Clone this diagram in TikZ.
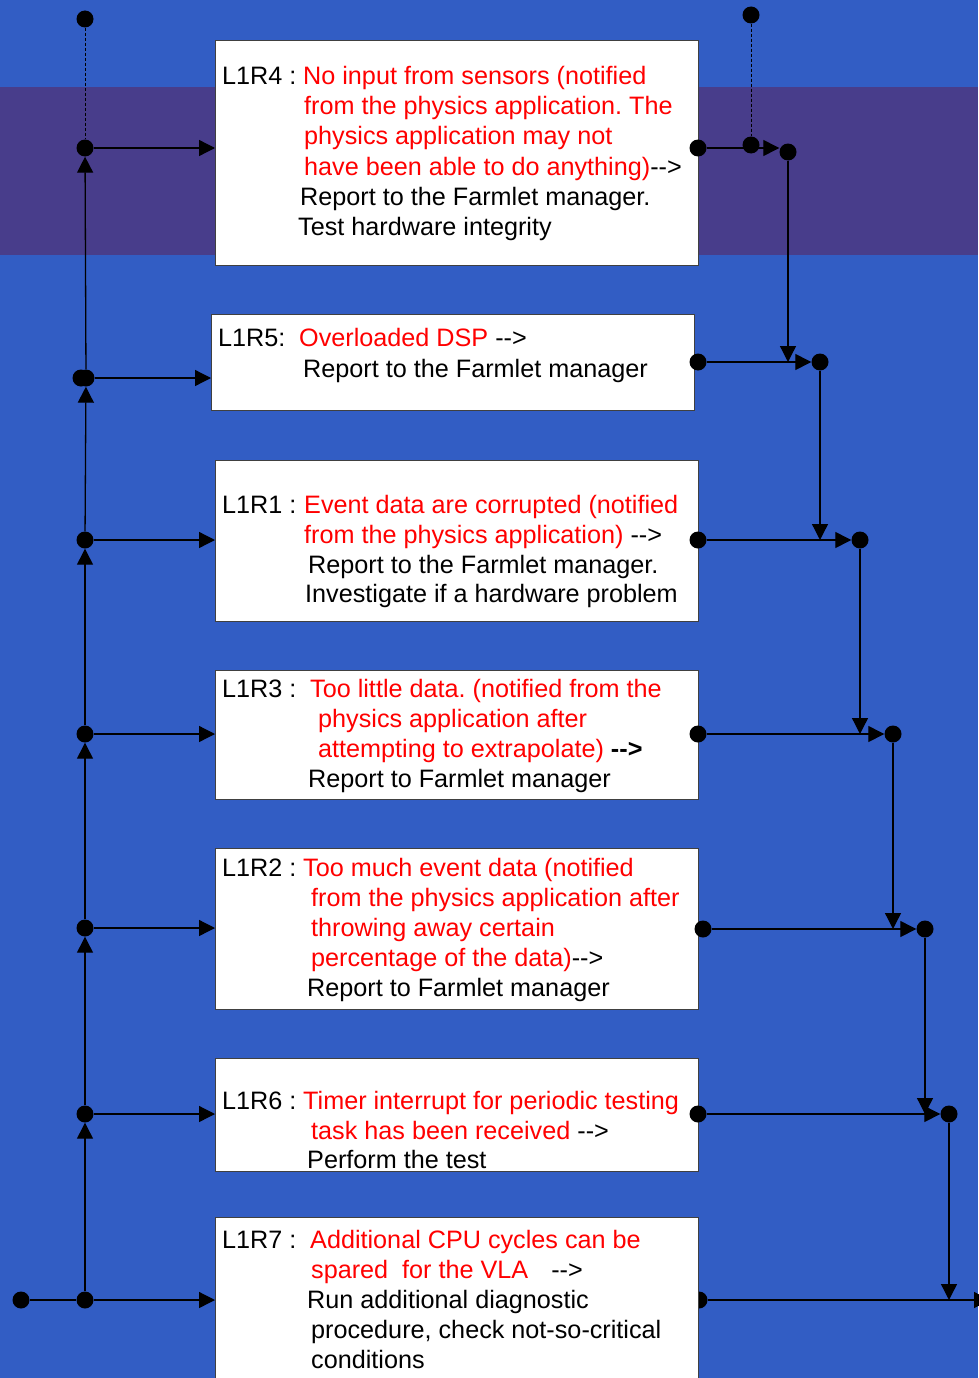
\documentclass[tikz,border=0pt]{standalone}
\usepackage{fontspec}
\setmainfont{Liberation Sans}
\usetikzlibrary{arrows.meta}
\definecolor{bgblue}{HTML}{325DC4}
\definecolor{bandpurple}{HTML}{483D8B}
\definecolor{rred}{HTML}{FF0000}
\newcommand{\darr}{-{}-{}>}
\begin{document}
\frenchspacing
\begin{tikzpicture}[x=1pt,y=-1pt,
  box/.style={draw=black!75, fill=white, line width=0.9pt, inner sep=0pt, anchor=north west},
  dot/.style={circle, fill=black, inner sep=0pt, minimum size=17pt},
  txt/.style={anchor=base west, inner sep=0pt, font=\fontsize{25.2}{30}\selectfont},
  rtxt/.style={txt, text=rred},
  conn/.style={line width=1.3pt, draw=black},
  arr/.style={conn, -{Triangle[length=16pt,width=16pt]}},
  dsh/.style={line width=1pt, dash pattern=on 3pt off 2pt}]
% background
\fill[bgblue] (0,0) rectangle (978,1378);
\fill[bandpurple] (0,87) rectangle (978,255);
\useasboundingbox (0,0) rectangle (978,1378);

% left dots
\node[dot] (Ltop) at (85,19) {};
\node[dot] (L148) at (85,148) {};
\node[dot] (L378a) at (81,378) {};
\node[dot] (L378b) at (86,378) {};
\node[dot] (L540) at (85,540) {};
\node[dot] (L734) at (85,734) {};
\node[dot] (L928) at (85,928) {};
\node[dot] (L1114) at (85,1114) {};
\node[dot] (L1300) at (85,1300) {};
\node[dot] (Lstart) at (21,1300) {};

% right dots
\node[dot] (Jtop) at (751,15) {};
\node[dot] (J4a) at (751,145) {};
\node[dot] (J4) at (788,152) {};
\node[dot] (J5) at (820,362) {};
\node[dot] (J1) at (860,540) {};
\node[dot] (J3) at (893,734) {};
\node[dot] (J2) at (925,929) {};
\node[dot] (J6) at (949,1114) {};
\coordinate (E) at (990,1300);
\node[dot] (R7) at (699,1300) {};

% boxes
\node[box, minimum width=483pt, minimum height=225pt] (b4) at (215,40) {};
\node[box, minimum width=483pt, minimum height=96pt] (b5) at (211,314) {};
\node[box, minimum width=483pt, minimum height=161pt] (b1) at (215,460) {};
\node[box, minimum width=483pt, minimum height=129pt] (b3) at (215,670) {};
\node[box, minimum width=483pt, minimum height=161pt] (b2) at (215,848) {};
\node[box, minimum width=483pt, minimum height=113pt] (b6) at (215,1058) {};
\node[box, minimum width=483pt, minimum height=200pt] (b7) at (215,1217) {};

% right dots on box edges
\node[dot] (R4) at (698,148) {};
\node[dot] (R5) at (698,362) {};
\node[dot] (R1) at (698,540) {};
\node[dot] (R3) at (698,734) {};
\node[dot] (R2) at (703,929) {};
\node[dot] (R6) at (698,1114) {};

% left connectors
\draw[dsh] (Ltop) -- (L148);
\draw[conn] (Lstart) -- (L1300);
\draw[arr] (L1300) -- (L1114);
\draw[arr] (L1114) -- (L928);
\draw[arr] (L928) -- (L734);
\draw[arr] (L734) -- (L540);
\draw[arr] (L540) -- (L378b);
\draw[arr] (L378b) -- (L148);
\draw[arr] (L148) -- (L148 -| b4.west);
\draw[arr] (L378b) -- (L378b -| b5.west);
\draw[arr] (L540) -- (L540 -| b1.west);
\draw[arr] (L734) -- (L734 -| b3.west);
\draw[arr] (L928) -- (L928 -| b2.west);
\draw[arr] (L1114) -- (L1114 -| b6.west);
\draw[arr] (L1300) -- (L1300 -| b7.west);

% right connectors
\draw[dsh] (Jtop) -- (J4a);
\draw[arr] (R4) -- (R4 -| J4.west);
\draw[arr] (J4) -- (J4 |- R5);
\draw[arr] (R5) -- (J5);
\draw[arr] (J5) -- (J5 |- R1);
\draw[arr] (R1) -- (J1);
\draw[arr] (J1) -- (J1 |- R3);
\draw[arr] (R3) -- (J3);
\draw[arr] (J3) -- (J3 |- R2);
\draw[arr] (R2) -- (J2);
\draw[arr] (J2) -- (J2 |- R6);
\draw[arr] (R6) -- (J6);
\draw[arr] (J6) -- (J6 |- R7);
\draw[arr] (R7) -- (E);

% texts L1R4
\node[txt] (t4l) at (222,85) {L1R4 :};
\node[rtxt] (t4a) at (303,85) {No input from sensors (notified};
\node[rtxt] (t4b) at (304,115) {from the physics application. The};
\node[rtxt] (t4c) at (304,145) {physics application may not};
\node[rtxt] (t4d) at (304,175) {have been able to do anything)\textcolor{black}{\darr}};
\node[txt] (t4e) at (300,205) {Report to the Farmlet manager.};
\node[txt] (t4f) at (298,235) {Test hardware integrity};
% L1R5
\node[txt] (t5l) at (218,346) {L1R5:};
\node[rtxt] (t5a) at (299,346) {Overloaded DSP \textcolor{black}{\darr}};
\node[txt] (t5b) at (303,377) {Report to the Farmlet manager};
% L1R1
\node[txt] (t1l) at (222,513) {L1R1 :};
\node[rtxt] (t1a) at (304,513) {Event data are corrupted (notified};
\node[rtxt] (t1b) at (304,543) {from the physics application) \textcolor{black}{\darr}};
\node[txt] (t1c) at (308,573) {Report to the Farmlet manager.};
\node[txt] (t1d) at (305,602) {Investigate if a hardware problem};
% L1R3
\node[txt] (t3l) at (222,697) {L1R3 :};
\node[rtxt] (t3a) at (310,697) {Too little data. (notified from the};
\node[rtxt] (t3b) at (318,727) {physics application after};
\node[rtxt] (t3c) at (318,757) {attempting to extrapolate) \textcolor{black}{\bfseries\darr}};
\node[txt] (t3d) at (308,787) {Report to Farmlet manager};
% L1R2
\node[txt] (t2l) at (222,876) {L1R2 :};
\node[rtxt] (t2a) at (303,876) {Too much event data (notified};
\node[rtxt] (t2b) at (311,906) {from the physics application after};
\node[rtxt] (t2c) at (311,936) {throwing away certain};
\node[rtxt] (t2d) at (311,966) {percentage of the data)\textcolor{black}{\darr}};
\node[txt] (t2e) at (307,996) {Report to Farmlet manager};
% L1R6
\node[txt] (t6l) at (222,1109) {L1R6 :};
\node[rtxt] (t6a) at (303,1109) {Timer interrupt for periodic testing};
\node[rtxt] (t6b) at (311,1139) {task has been received \textcolor{black}{\darr}};
\node[txt] (t6c) at (307,1168) {Perform the test};
% L1R7
\node[txt] (t7l) at (222,1248) {L1R7 :};
\node[rtxt] (t7a) at (310,1248) {Additional CPU cycles can be};
\node[rtxt] (t7b) at (311,1278) {spared\ \ for the VLA\hspace{23pt}\textcolor{black}{\darr}};
\node[txt] (t7c) at (307,1308) {Run additional diagnostic};
\node[txt] (t7d) at (311,1338) {procedure, check not-so-critical};
\node[txt] (t7e) at (311,1368) {conditions};
\end{tikzpicture}
\end{document}
